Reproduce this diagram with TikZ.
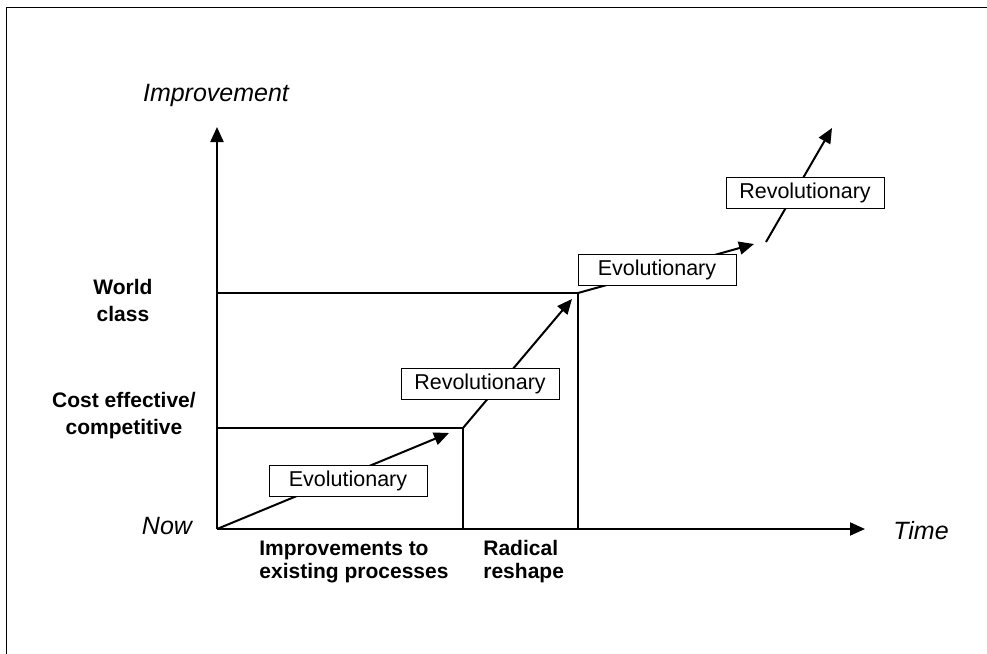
\documentclass[tikz,border=0pt]{standalone}
\usepackage{fontspec}
\setmainfont{Liberation Sans}
\usetikzlibrary{arrows.meta,positioning}

\begin{document}
\begin{tikzpicture}[
      x=0.5pt, y=-0.5pt,
      axis/.style={line width=1pt, -{Triangle[length=7.5pt,width=6.5pt]}},
      level/.style={line width=1pt},
      trend/.style={line width=1pt, -{Triangle[length=7.5pt,width=6.5pt]}},
      stage/.style={
        draw,
        line width=0.5pt,
        fill=white,
        minimum width=79pt,
        minimum height=15.5pt,
        inner sep=0pt,
        font=\fontsize{10.75}{12}\selectfont
      },
      axis label/.style={font=\fontsize{12.5}{14}\selectfont\itshape},
      band label/.style={
        font=\fontsize{10.5}{13.5}\selectfont\bfseries,
        align=center,
        inner sep=0pt
      },
  ]

        \useasboundingbox (0,0) rectangle (987,654);
        % frame
        \draw[line width=0.5pt] (6,654) -- (6,7) -- (987,7);

        % axes
        \coordinate (now) at (217,529);
        \coordinate (improvement tip) at (217,127);
        \coordinate (time tip) at (865,529);
        \draw[axis] (now) -- (improvement tip);
        \draw[axis] (now) -- (time tip);
        \node[axis label] (improvement) at (216,95) {Improvement};
        \node[axis label] (time) at (921,531) {Time};
        \node[axis label] (now label) at (167,526) {Now};

        % levels
        \coordinate (cost end) at (463,428);
        \coordinate (world end) at (578,293);
        \draw[level] (now |- cost end) -- (cost end) -- (now -| cost end);
        \draw[level] (now |- world end) -- (world end) -- (now -| world end);
        \node[band label] (world) at (123,300) {World\\class};
        \node[band label] (cost) at (124,416) {Cost effective/\\competitive};
        \node[band label, align=left, anchor=west, font=\fontsize{10.5}{11.5}\selectfont\bfseries]
            (existing) at (259,562) {Improvements to\\existing processes};
        \node[band label, align=left, anchor=west, font=\fontsize{10.5}{11.5}\selectfont\bfseries]
            (radical) at (483,562) {Radical\\reshape};

        % trend arrows
        \coordinate (evo1 tip) at (449,433);
        \coordinate (rev1 tip) at (572,299);
        \coordinate (evo2 tip) at (754,244);
        \coordinate (rev2 start) at (766,242);
        \coordinate (rev2 tip) at (832,128);
        \draw[trend] (now) -- (evo1 tip);
        \draw[trend] (cost end) -- (rev1 tip);
        \draw[trend] (world end) -- (evo2 tip);
        \draw[trend] (rev2 start) -- (rev2 tip);

        % stage boxes
        \node[stage] (evo1) at (348,481) {Evolutionary};
        \node[stage] (rev1) at (480,384) {Revolutionary};
        \node[stage] (evo2) at (657,270) {Evolutionary};
        \node[stage] (rev2) at (805,193) {Revolutionary};
  \end{tikzpicture}
\end{document}
